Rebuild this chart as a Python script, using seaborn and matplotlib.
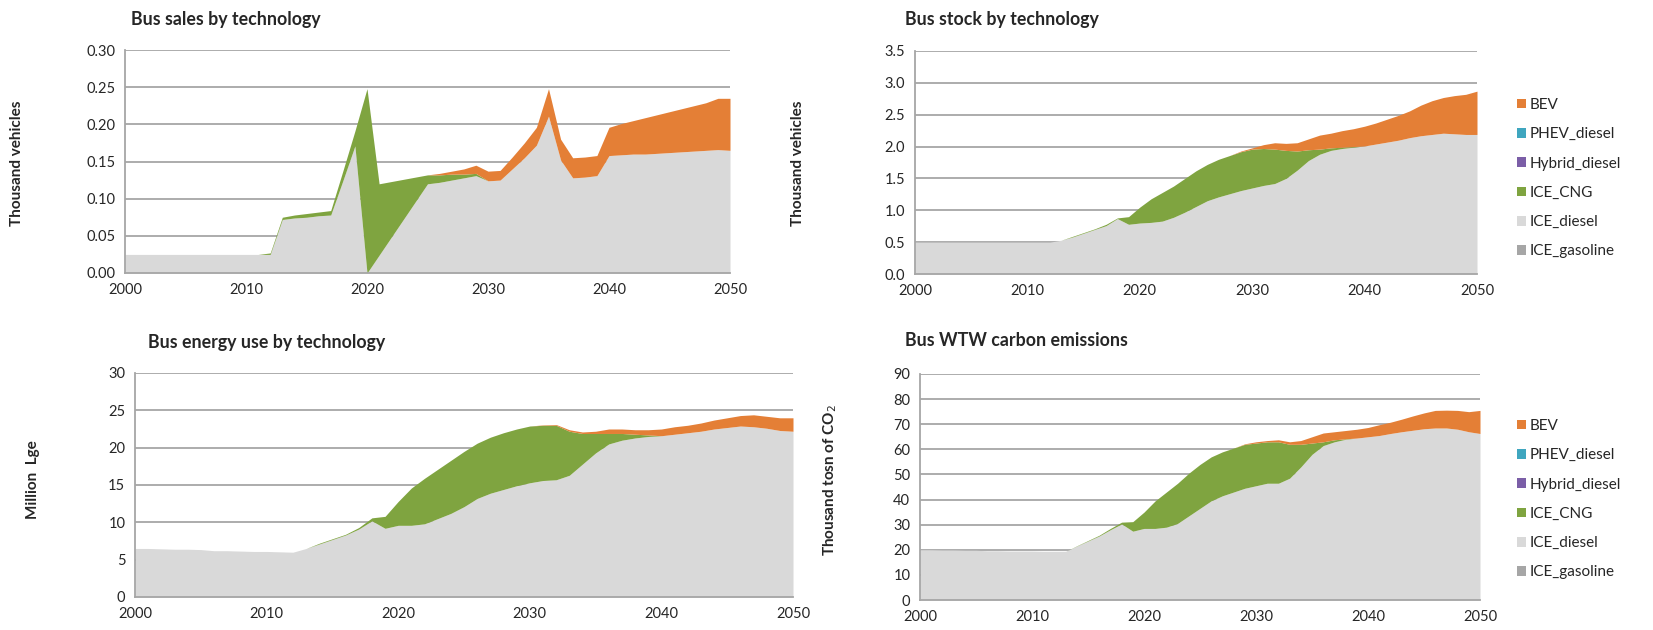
import matplotlib
matplotlib.use("Agg")
import matplotlib.pyplot as plt
from matplotlib.patches import Patch
import seaborn as sns

sns.set_theme(style="white")
plt.rcParams["font.family"] = ["Lato", "DejaVu Sans"]

YEARS = list(range(2000, 2051))
TECHS = ["ICE_gasoline", "ICE_diesel", "ICE_CNG", "Hybrid_diesel", "PHEV_diesel", "BEV"]
COLORS = {
    "ICE_gasoline": "#A6A6A6",
    "ICE_diesel": "#D9D9D9",
    "ICE_CNG": "#7FA440",
    "Hybrid_diesel": "#7B5EA7",
    "PHEV_diesel": "#3FA6BF",
    "BEV": "#E47F36",
}

ZERO = [0.0] * len(YEARS)

# Bus sales (thousand vehicles)
sales_diesel = [0.025, 0.025, 0.025, 0.025, 0.025, 0.025, 0.025, 0.025, 0.025, 0.025,
                0.025, 0.025, 0.025, 0.072, 0.074, 0.075, 0.077, 0.078, 0.124, 0.171,
                0.000, 0.024, 0.048, 0.072, 0.096, 0.120, 0.122, 0.125, 0.128, 0.131,
                0.124, 0.125, 0.140, 0.155, 0.172, 0.211, 0.152, 0.128, 0.129, 0.131,
                0.158, 0.159, 0.160, 0.160, 0.161, 0.162, 0.163, 0.164, 0.165, 0.166,
                0.165]
sales_cng = [0.0, 0.0, 0.0, 0.0, 0.0, 0.0, 0.0, 0.0, 0.0, 0.0,
             0.0, 0.0, 0.002, 0.003, 0.004, 0.005, 0.005, 0.006, 0.013, 0.020,
             0.248, 0.096, 0.075, 0.054, 0.033, 0.012, 0.010, 0.008, 0.005, 0.003,
             0.0, 0.0, 0.0, 0.0, 0.0, 0.0, 0.0, 0.0, 0.0, 0.0,
             0.0, 0.0, 0.0, 0.0, 0.0, 0.0, 0.0, 0.0, 0.0, 0.0,
             0.0]
sales_bev = [0.0, 0.0, 0.0, 0.0, 0.0, 0.0, 0.0, 0.0, 0.0, 0.0,
             0.0, 0.0, 0.0, 0.0, 0.0, 0.0, 0.0, 0.0, 0.0, 0.0,
             0.0, 0.0, 0.0, 0.0, 0.0, 0.0, 0.002, 0.004, 0.007, 0.011,
             0.013, 0.013, 0.016, 0.020, 0.024, 0.037, 0.028, 0.027, 0.027, 0.027,
             0.038, 0.042, 0.045, 0.049, 0.052, 0.055, 0.058, 0.061, 0.064, 0.069,
             0.070]

# Bus stock (thousand vehicles)
stock_diesel = [0.50, 0.50, 0.50, 0.50, 0.50, 0.50, 0.50, 0.50, 0.50, 0.50,
                0.50, 0.50, 0.50, 0.53, 0.58, 0.64, 0.70, 0.76, 0.87, 0.78,
                0.80, 0.81, 0.83, 0.89, 0.97, 1.06, 1.15, 1.21, 1.26, 1.31,
                1.35, 1.39, 1.42, 1.50, 1.63, 1.78, 1.88, 1.94, 1.97, 1.99,
                2.01, 2.04, 2.07, 2.10, 2.14, 2.17, 2.19, 2.21, 2.20, 2.19,
                2.19]
stock_cng = [0.0, 0.0, 0.0, 0.0, 0.0, 0.0, 0.0, 0.0, 0.0, 0.0,
             0.0, 0.0, 0.0, 0.0, 0.01, 0.01, 0.01, 0.02, 0.01, 0.12,
             0.25, 0.37, 0.45, 0.49, 0.53, 0.56, 0.57, 0.59, 0.60, 0.61,
             0.61, 0.58, 0.54, 0.44, 0.30, 0.17, 0.08, 0.04, 0.02, 0.01,
             0.0, 0.0, 0.0, 0.0, 0.0, 0.0, 0.0, 0.0, 0.0, 0.0,
             0.0]
stock_bev = [0.0, 0.0, 0.0, 0.0, 0.0, 0.0, 0.0, 0.0, 0.0, 0.0,
             0.0, 0.0, 0.0, 0.0, 0.0, 0.0, 0.0, 0.0, 0.0, 0.0,
             0.0, 0.0, 0.0, 0.0, 0.0, 0.0, 0.0, 0.0, 0.0, 0.01,
             0.02, 0.06, 0.10, 0.11, 0.13, 0.17, 0.22, 0.23, 0.26, 0.28,
             0.31, 0.33, 0.36, 0.39, 0.42, 0.48, 0.53, 0.56, 0.60, 0.63,
             0.68]

# Bus energy use (million litres of gasoline equivalent)
energy_diesel = [6.5, 6.5, 6.45, 6.4, 6.4, 6.35, 6.2, 6.2, 6.15, 6.1,
                 6.1, 6.05, 6.0, 6.5, 7.1, 7.7, 8.3, 9.1, 10.2, 9.2,
                 9.6, 9.6, 9.8, 10.5, 11.2, 12.1, 13.2, 13.9, 14.4, 14.9,
                 15.3, 15.6, 15.7, 16.3, 17.8, 19.3, 20.5, 21.0, 21.3, 21.5,
                 21.6, 21.8, 22.0, 22.2, 22.5, 22.7, 22.9, 22.8, 22.6, 22.3,
                 22.2]
energy_cng = [0.0, 0.0, 0.0, 0.0, 0.0, 0.0, 0.0, 0.0, 0.0, 0.0,
              0.0, 0.0, 0.0, 0.0, 0.1, 0.1, 0.1, 0.2, 0.4, 1.6,
              3.2, 5.0, 6.1, 6.6, 7.1, 7.4, 7.4, 7.5, 7.6, 7.6,
              7.6, 7.4, 7.3, 5.9, 4.1, 2.6, 1.4, 0.9, 0.5, 0.2,
              0.0, 0.0, 0.0, 0.0, 0.0, 0.0, 0.0, 0.0, 0.0, 0.0,
              0.0]
energy_bev = [0.0, 0.0, 0.0, 0.0, 0.0, 0.0, 0.0, 0.0, 0.0, 0.0,
              0.0, 0.0, 0.0, 0.0, 0.0, 0.0, 0.0, 0.0, 0.0, 0.0,
              0.0, 0.0, 0.0, 0.0, 0.0, 0.0, 0.0, 0.0, 0.0, 0.0,
              0.0, 0.05, 0.1, 0.2, 0.2, 0.3, 0.6, 0.6, 0.6, 0.7,
              0.9, 1.0, 1.0, 1.1, 1.2, 1.3, 1.4, 1.6, 1.6, 1.7,
              1.8]

# Bus well-to-wheel CO2 emissions (thousand tonnes)
co2_diesel = [20.0, 20.0, 19.9, 19.9, 19.8, 19.8, 19.6, 19.6, 19.5, 19.5,
              19.5, 19.4, 19.4, 19.4, 21.5, 23.5, 25.5, 28.0, 30.3, 27.4,
              28.5, 28.5, 29.0, 30.5, 33.5, 36.5, 39.5, 41.5, 43.0, 44.5,
              45.5, 46.5, 46.5, 48.5, 53.0, 58.0, 61.5, 63.0, 64.0, 64.5,
              65.0, 65.5, 66.3, 67.0, 67.6, 68.2, 68.5, 68.5, 68.0, 67.0,
              66.3]
co2_cng = [0.0, 0.0, 0.0, 0.0, 0.0, 0.0, 0.0, 0.0, 0.0, 0.0,
           0.0, 0.0, 0.0, 0.0, 0.1, 0.2, 0.3, 0.5, 0.7, 3.8,
           6.5, 11.0, 14.0, 16.0, 17.0, 17.5, 17.5, 17.5, 17.5, 17.5,
           17.0, 16.5, 16.5, 13.5, 9.0, 4.5, 1.5, 0.8, 0.2, 0.0,
           0.0, 0.0, 0.0, 0.0, 0.0, 0.0, 0.0, 0.0, 0.0, 0.0,
           0.0]
co2_bev = [0.0, 0.0, 0.0, 0.0, 0.0, 0.0, 0.0, 0.0, 0.0, 0.0,
           0.0, 0.0, 0.0, 0.0, 0.0, 0.0, 0.0, 0.0, 0.0, 0.0,
           0.0, 0.0, 0.0, 0.0, 0.0, 0.0, 0.0, 0.0, 0.0, 0.2,
           0.5, 0.5, 0.8, 1.0, 1.5, 2.5, 3.5, 3.2, 3.3, 3.5,
           3.7, 4.3, 4.5, 5.0, 5.7, 6.3, 7.0, 7.1, 7.5, 8.0,
           9.2]

W, H = 1653, 630
fig = plt.figure(figsize=(W / 100, H / 100), dpi=100)

GRID = "#A6A6A6"
TEXT = "#262626"


def add_axes(left, top, right, bottom):
    return fig.add_axes([left / W, 1 - bottom / H, (right - left) / W, (bottom - top) / H])


def area_panel(ax, diesel, cng, bev, yticks, fmt):
    layers = {
        "ICE_gasoline": ZERO,
        "ICE_diesel": diesel,
        "ICE_CNG": cng,
        "Hybrid_diesel": ZERO,
        "PHEV_diesel": ZERO,
        "BEV": bev,
    }
    ax.stackplot(YEARS, [layers[t] for t in TECHS],
                 colors=[COLORS[t] for t in TECHS], linewidth=0, zorder=2)
    ax.set_xlim(2000, 2050)
    ax.set_ylim(yticks[0], yticks[-1])
    ax.set_xticks(range(2000, 2051, 10))
    ax.set_yticks(yticks)
    ax.set_yticklabels([fmt.format(v) for v in yticks])
    ax.yaxis.grid(True, color=GRID, linewidth=1.3, zorder=1)
    ax.xaxis.grid(False)
    ax.set_axisbelow(True)
    for side in ("top", "right"):
        ax.spines[side].set_visible(False)
    for side in ("left", "bottom"):
        ax.spines[side].set_color(GRID)
        ax.spines[side].set_linewidth(1.3)
    ax.tick_params(axis="both", which="major", direction="out", length=4,
                   width=1.2, color=GRID, labelsize=10.5, labelcolor=TEXT, pad=3)
    ax.set_facecolor("white")


ax_sales = add_axes(125, 50, 730, 273)
area_panel(ax_sales, sales_diesel, sales_cng, sales_bev,
           [0.0, 0.05, 0.10, 0.15, 0.20, 0.25, 0.30], "{:.2f}")

ax_stock = add_axes(915, 51, 1477, 274)
area_panel(ax_stock, stock_diesel, stock_cng, stock_bev,
           [0.0, 0.5, 1.0, 1.5, 2.0, 2.5, 3.0, 3.5], "{:.1f}")

ax_energy = add_axes(135, 373, 793, 597)
area_panel(ax_energy, energy_diesel, energy_cng, energy_bev,
           [0, 5, 10, 15, 20, 25, 30], "{:d}")

ax_co2 = add_axes(920, 374, 1480, 600)
area_panel(ax_co2, co2_diesel, co2_cng, co2_bev,
           [0, 10, 20, 30, 40, 50, 60, 70, 80, 90], "{:d}")

# Panel titles
titles = [
    (131, 19, "Bus sales by technology"),
    (905, 19, "Bus stock by technology"),
    (148, 343, "Bus energy use by technology"),
    (905, 341, "Bus WTW carbon emissions"),
]
for x, y, t in titles:
    fig.text(x / W, 1 - y / H, t, ha="left", va="center", fontsize=12.8,
             fontweight="bold", color=TEXT)

# Y-axis labels
ylabels = [
    (17, 163, "Thousand vehicles"),
    (798, 163, "Thousand vehicles"),
    (33, 480, "Million  Lge"),
    (830, 480, "Thousand tosn of CO$_2$"),
]
for x, y, t in ylabels:
    fig.text(x / W, 1 - y / H, t, ha="center", va="center", rotation=90,
             fontsize=11, fontweight="bold", color=TEXT)

# Legends beside the right-hand panels
legend_order = ["BEV", "PHEV_diesel", "Hybrid_diesel", "ICE_CNG", "ICE_diesel", "ICE_gasoline"]
handles = [Patch(facecolor=COLORS[t], edgecolor="none") for t in legend_order]
for first_row_y in (103, 424):
    fig.legend(handles, legend_order, loc="upper left",
               bbox_to_anchor=(1517 / W, 1 - (first_row_y - 5) / H),
               frameon=False, fontsize=11, handlelength=0.6, handleheight=0.6,
               handletextpad=0.25, labelspacing=1.0, borderaxespad=0,
               borderpad=0, labelcolor=TEXT)

fig.savefig("out.png", dpi=100, facecolor="white")
